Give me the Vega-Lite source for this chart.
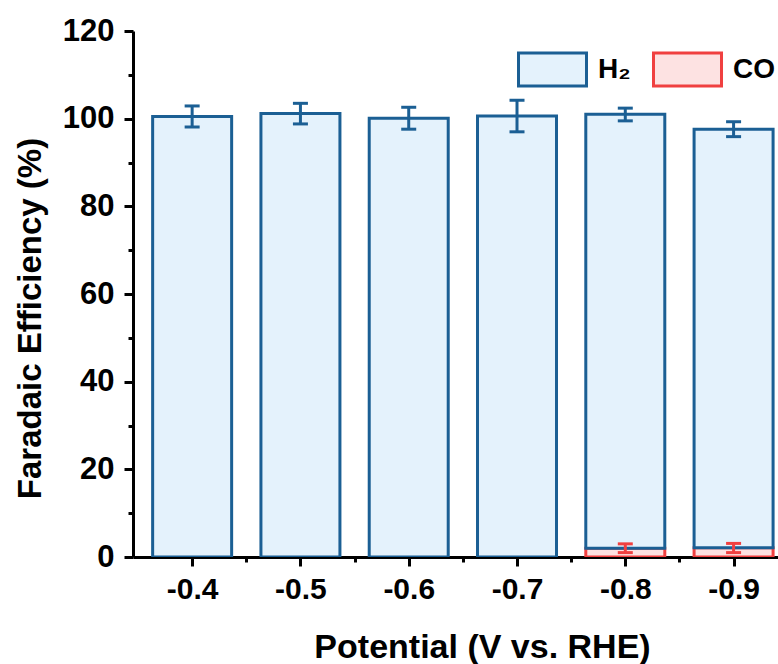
{
  "$schema": "https://vega.github.io/schema/vega-lite/v6.json",
  "width": 645,
  "height": 526,
  "autosize": {"type": "none"},
  "padding": {"left": 133, "top": 31, "right": 0, "bottom": 107},
  "background": "white",
  "view": {"stroke": null},
  "config": {
    "font": "Liberation Sans",
    "axis": {
      "domainColor": "black", "domainWidth": 3, "tickColor": "black", "tickWidth": 3,
      "labelFont": "Liberation Sans", "labelFontWeight": "bold", "labelColor": "black",
      "titleFont": "Liberation Sans", "titleFontWeight": "bold", "titleColor": "black",
      "grid": false
    }
  },
  "datasets": {
    "bars": [
      {"potential": -0.4, "gas": "H2", "lo": 0, "hi": 100.5},
      {"potential": -0.5, "gas": "H2", "lo": 0, "hi": 101.2},
      {"potential": -0.6, "gas": "H2", "lo": 0, "hi": 100.1},
      {"potential": -0.7, "gas": "H2", "lo": 0, "hi": 100.6},
      {"potential": -0.8, "gas": "CO", "lo": 0, "hi": 2.0},
      {"potential": -0.8, "gas": "H2", "lo": 2.0, "hi": 101.0},
      {"potential": -0.9, "gas": "CO", "lo": 0, "hi": 2.1},
      {"potential": -0.9, "gas": "H2", "lo": 2.1, "hi": 97.6}
    ],
    "errs": [
      {"potential": -0.4, "gas": "H2", "elo": 98.1, "ehi": 102.9},
      {"potential": -0.5, "gas": "H2", "elo": 98.8, "ehi": 103.5},
      {"potential": -0.6, "gas": "H2", "elo": 97.6, "ehi": 102.6},
      {"potential": -0.7, "gas": "H2", "elo": 97.0, "ehi": 104.2},
      {"potential": -0.8, "gas": "H2", "elo": 99.5, "ehi": 102.4},
      {"potential": -0.9, "gas": "H2", "elo": 95.9, "ehi": 99.3},
      {"potential": -0.8, "gas": "CO", "elo": 1.0, "ehi": 3.0},
      {"potential": -0.9, "gas": "CO", "elo": 1.0, "ehi": 3.1}
    ]
  },
  "layer": [
    {
      "data": {"name": "bars"},
      "mark": {"type": "bar", "width": 79, "strokeWidth": 3, "clip": true},
      "encoding": {
        "x": {
          "field": "potential", "type": "quantitative",
          "scale": {"domain": [-0.9364, -0.35], "reverse": true, "nice": false, "zero": false},
          "axis": {
            "values": [-0.4, -0.45, -0.5, -0.55, -0.6, -0.65, -0.7, -0.75, -0.8, -0.85, -0.9],
            "labelExpr": "abs(datum.value*10 - round(datum.value*10)) > 0.2 ? '' : replace(format(datum.value, '.1f'), '\u2212', '-')",
            "tickSize": {"condition": {"test": "abs(datum.value*10 - round(datum.value*10)) > 0.2", "value": 5}, "value": 9},
            "labelFontSize": 30, "labelPadding": 8,
            "title": "Potential (V vs. RHE)", "titleFontSize": 34,
            "titleX": 349, "titleY": 100, "titleBaseline": "alphabetic", "titleAlign": "center"
          }
        },
        "y": {
          "field": "hi", "type": "quantitative",
          "scale": {"domain": [0, 120], "nice": false},
          "axis": {
            "values": [0, 10, 20, 30, 40, 50, 60, 70, 80, 90, 100, 110, 120],
            "labelExpr": "datum.value % 20 != 0 ? '' : datum.label",
            "tickSize": {"condition": {"test": "datum.value % 20 != 0", "value": 5}, "value": 9},
            "labelFontSize": 31, "labelPadding": 10,
            "title": "Faradaic Efficiency (%)", "titleFontSize": 33,
            "titleX": -93, "titleY": 287, "titleBaseline": "alphabetic", "titleAlign": "center", "titleAngle": -90
          }
        },
        "y2": {"field": "lo"},
        "fill": {
          "field": "gas", "type": "nominal",
          "scale": {"domain": ["H2", "CO"], "range": ["#e4f2fc", "#fde2e2"]},
          "legend": {
            "orient": "none", "legendX": 384, "legendY": 3, "direction": "horizontal",
            "title": null, "padding": 0,
            "symbolType": "M-1,-0.485H1V0.485H-1Z", "symbolSize": 4624, "symbolStrokeWidth": 3,
            "labelExpr": "datum.label == 'H2' ? 'H\u2082' : datum.label",
            "labelFontSize": 28, "labelFont": "Liberation Sans", "labelFontWeight": "bold", "labelColor": "black",
            "labelOffset": 10, "columnPadding": 16
          }
        },
        "stroke": {
          "field": "gas", "type": "nominal",
          "scale": {"domain": ["H2", "CO"], "range": ["#1b5f94", "#f04040"]}
        }
      }
    },
    {
      "data": {"name": "errs"},
      "mark": {"type": "rule", "strokeWidth": 3},
      "encoding": {
        "x": {"field": "potential", "type": "quantitative"},
        "y": {"field": "elo", "type": "quantitative"},
        "y2": {"field": "ehi"},
        "color": {"field": "gas", "type": "nominal", "scale": {"domain": ["H2", "CO"], "range": ["#1b5f94", "#f04040"]}, "legend": null}
      }
    },
    {
      "data": {"name": "errs"},
      "mark": {"type": "tick", "orient": "horizontal", "size": 15, "thickness": 3, "opacity": 1},
      "encoding": {
        "x": {"field": "potential", "type": "quantitative"},
        "y": {"field": "elo", "type": "quantitative"},
        "color": {"field": "gas", "type": "nominal", "scale": {"domain": ["H2", "CO"], "range": ["#1b5f94", "#f04040"]}, "legend": null}
      }
    },
    {
      "data": {"name": "errs"},
      "mark": {"type": "tick", "orient": "horizontal", "size": 15, "thickness": 3, "opacity": 1},
      "encoding": {
        "x": {"field": "potential", "type": "quantitative"},
        "y": {"field": "ehi", "type": "quantitative"},
        "color": {"field": "gas", "type": "nominal", "scale": {"domain": ["H2", "CO"], "range": ["#1b5f94", "#f04040"]}, "legend": null}
      }
    },
    {
      "mark": {"type": "rule", "color": "black", "strokeWidth": 3},
      "encoding": {"y": {"datum": 120}}
    }
  ]
}
